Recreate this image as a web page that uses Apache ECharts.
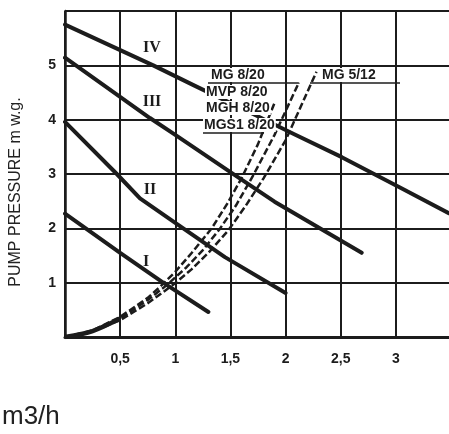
<!DOCTYPE html>
<html><head><meta charset="utf-8">
<script src="https://cdn.jsdelivr.net/npm/echarts@6/dist/echarts.min.js"></script>
<style>html,body{margin:0;padding:0;background:#fff}#c{width:449px;height:434px}</style>
</head><body><div id="c"></div><script>
// Tick labels
const xTickLabels = ['', '0,5', '1', '1,5', '2', '2,5', '3', ''];
const yTickLabels = ['', '1', '2', '3', '4', '5', ''];

// Pump curves (flow m3/h, pressure m w.g.)
const qI = [0, 0.5, 0.89, 1.3];
const hI = [2.27, 1.55, 1.0, 0.46];
const qII = [0, 0.47, 0.68, 1.0, 1.45, 2.0];
const hII = [3.96, 3.0, 2.55, 2.1, 1.47, 0.81];
const qIII = [0, 0.77, 1.0, 1.51, 1.9, 2.69];
const hIII = [5.14, 4.03, 3.72, 3.02, 2.49, 1.55];
const qIV = [0, 0.8, 1.16, 1.72, 2.06, 2.51, 3.02, 3.48];
const hIV = [5.75, 5.0, 4.64, 4.09, 3.75, 3.31, 2.77, 2.28];

// System curves (dashed)
const qA = [0, 0.25, 0.5, 0.75, 0.86, 1.0, 1.15, 1.33, 1.47, 1.6, 1.75, 1.9];
const hA = [0, 0.12, 0.37, 0.72, 0.92, 1.2, 1.55, 2.0, 2.45, 2.92, 3.55, 4.31];
const qB = [0, 0.25, 0.5, 0.75, 0.92, 1.1, 1.25, 1.4, 1.55, 1.7, 1.9, 2.12];
const hB = [0, 0.11, 0.34, 0.68, 0.95, 1.28, 1.6, 1.98, 2.42, 2.95, 3.72, 4.68];
const qC = [0, 0.25, 0.5, 0.75, 0.98, 1.15, 1.3, 1.48, 1.64, 1.8, 2.0, 2.28];
const hC = [0, 0.10, 0.31, 0.62, 0.96, 1.25, 1.55, 1.96, 2.42, 2.92, 3.62, 4.88];
// merged start of the dashed bundle
const qS = [0, 0.25, 0.5];
const hS = [0, 0.11, 0.34];

const curveNames = ['I', 'II', 'III', 'IV'];
const systemNames = ['MVP 8/20', 'MGH 8/20', 'MGS1 8/20', 'MG 8/20', 'MG 5/12'];

function pairs(q, h) { return q.map((v, i) => [v, h[i]]); }

const INK = '#1c1c1c';
const chart = echarts.init(document.getElementById('c'));

function solid(name, q, h) {
  return { name, type: 'line', data: pairs(q, h), showSymbol: false, smooth: false,
    lineStyle: { color: INK, width: 4, cap: 'round', join: 'round' }, z: 5, silent: true };
}
function dashed(name, q, h) {
  return { name, type: 'line', data: pairs(q, h), showSymbol: false, smooth: false,
    lineStyle: { color: INK, width: 2.5, type: [7, 3], join: 'round' }, z: 4, silent: true };
}

const roman = 'bold 16px "Liberation Serif"';
const lbl = 'bold 14px "Liberation Sans"';
function txt(text, x, y, font, opts, extra) {
  return Object.assign({ type: 'text', x, y, z: 20, silent: true,
    style: Object.assign({ text, font, fill: INK, textVerticalAlign: 'middle' }, opts || {}) }, extra || {});
}

chart.setOption({
  animation: false,
  backgroundColor: '#fff',
  grid: { left: 65, top: 11, width: 386, bottom: 97, outerBoundsMode: 'none', containLabel: false },
  xAxis: {
    type: 'value', min: 0, max: 3.5, interval: 0.5,
    axisLine: { show: true, lineStyle: { color: INK, width: 3 } },
    axisTick: { show: false },
    axisLabel: { formatter: v => xTickLabels[Math.round(v / 0.5)] || '', color: INK, fontWeight: 'bold',
      fontSize: 14, fontFamily: 'Liberation Sans', margin: 15 },
    splitLine: { show: true, lineStyle: { color: INK, width: 2 } }
  },
  yAxis: {
    type: 'value', min: 0, max: 6, interval: 1,
    axisLine: { show: true, lineStyle: { color: INK, width: 2.5 } },
    axisTick: { show: false },
    axisLabel: { formatter: v => yTickLabels[Math.round(v)] || '', color: INK, fontWeight: 'bold',
      fontSize: 14, fontFamily: 'Liberation Sans', margin: 9 },
    splitLine: { show: true, lineStyle: { color: INK, width: 2 } }
  },
  series: [
    solid(curveNames[0], qI, hI), solid(curveNames[1], qII, hII),
    solid(curveNames[2], qIII, hIII), solid(curveNames[3], qIV, hIV),
    dashed(systemNames[2], qA, hA), dashed(systemNames[3], qB, hB), dashed(systemNames[4], qC, hC),
    { type: 'line', data: pairs(qS, hS), showSymbol: false, smooth: 0.3, lineStyle: { color: INK, width: 4.5 }, z: 4, silent: true }
  ]
});

const topB = chart.convertToPixel({ gridIndex: 0 }, [qB[qB.length - 1], hB[hB.length - 1]]);

chart.setOption({
  graphic: [
    txt(curveNames[3], 152, 48, roman, { textAlign: 'center' }),
    txt(curveNames[2], 152, 102, roman, { textAlign: 'center' }),
    txt(curveNames[1], 150, 190, roman, { textAlign: 'center' }),
    txt(curveNames[0], 146, 262, roman, { textAlign: 'center' }),
    txt(systemNames[3], 210, 75, lbl, { backgroundColor: '#fff', padding: [0, 1] }),
    txt(systemNames[0], 205, 92, lbl, { backgroundColor: '#fff', padding: [0, 1] }),
    txt(systemNames[1], 205, 108, lbl, { backgroundColor: '#fff', padding: [0, 1] }),
    txt(systemNames[2], 203, 125, lbl, { backgroundColor: '#fff', padding: [0, 1] }),
    txt(systemNames[4], 321, 75, lbl, { backgroundColor: '#fff', padding: [0, 1] }),
    { type: 'polyline', z: 21, silent: true, shape: { points: [[208, 83], [topB[0], 83], topB] },
      style: { stroke: INK, lineWidth: 1.6, fill: null } },
    { type: 'line', z: 21, silent: true, shape: { x1: 310, y1: 83, x2: 400, y2: 83 },
      style: { stroke: INK, lineWidth: 1.6 } },
    { type: 'line', z: 21, silent: true, shape: { x1: 203, y1: 133, x2: 264, y2: 133 },
      style: { stroke: INK, lineWidth: 1.6 } },
    txt('PUMP PRESSURE m w.g.', 16, 192, '16px "Liberation Sans"',
      { textAlign: 'center', fill: '#222' }, { rotation: Math.PI / 2 }),
    txt('m3/h', 2, 417, '26px "Liberation Sans"', { fill: '#222' })
  ]
});
</script></body></html>
